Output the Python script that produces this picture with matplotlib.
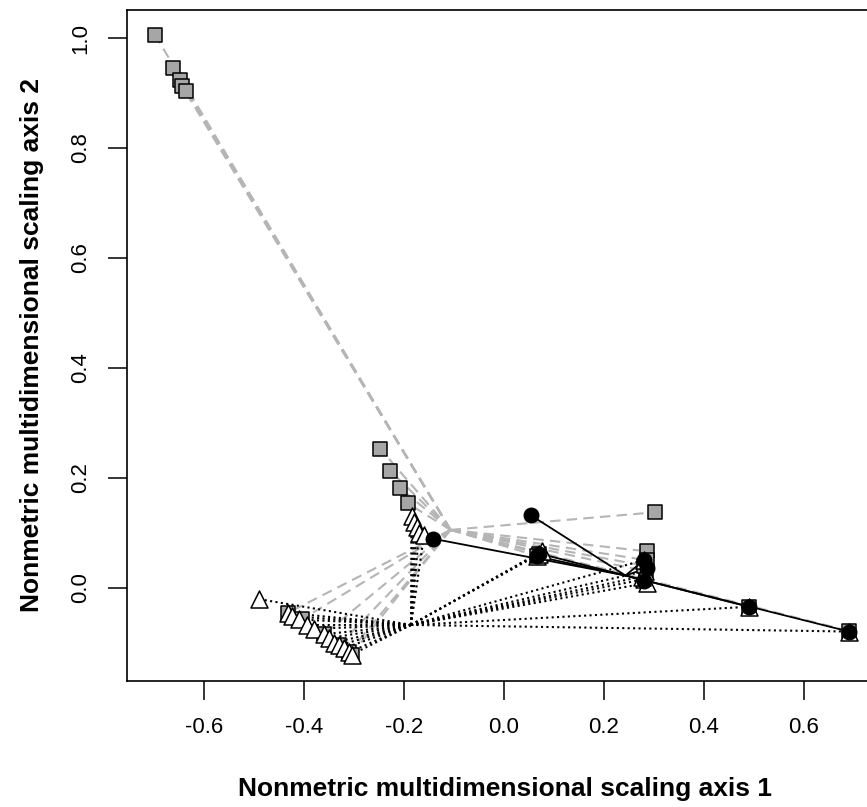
import numpy as np
import matplotlib
matplotlib.use('Agg')
from matplotlib import pyplot as plt

plt.rcParams['font.family'] = ['Liberation Sans', 'DejaVu Sans']

# Group 1: grey squares, grey dashed spider
sq_cent = (-0.107, 0.105)
sq_x = [-0.698, -0.662, -0.648, -0.644, -0.636, -0.248, -0.228, -0.208, -0.192,
        0.302, 0.286, 0.285, 0.283, 0.280, 0.690, 0.490, 0.070, 0.065,
        -0.432, -0.405, -0.360, -0.330, -0.310, -0.305]
sq_y = [1.006, 0.946, 0.924, 0.913, 0.904, 0.253, 0.213, 0.181, 0.153,
        0.137, 0.066, 0.050, 0.030, 0.040, -0.079, -0.035, 0.062, 0.058,
        -0.046, -0.058, -0.085, -0.105, -0.118, -0.122]

# Group 2: open triangles, black dotted spider
tr_cent = (-0.186, -0.068)
tr_x = [-0.490, -0.432, -0.425, -0.410, -0.395, -0.380, -0.360, -0.350, -0.340,
        -0.330, -0.320, -0.310, -0.305,
        -0.185, -0.180, -0.175, -0.170, -0.160,
        0.065, 0.070, 0.075, 0.280, 0.282, 0.280, 0.285, 0.276, 0.490, 0.690]
tr_y = [-0.021, -0.046, -0.052, -0.058, -0.068, -0.075, -0.085, -0.092, -0.100,
        -0.105, -0.110, -0.118, -0.122,
        0.130, 0.120, 0.110, 0.100, 0.095,
        0.058, 0.062, 0.066, 0.050, 0.030, 0.015, 0.008, 0.020, -0.035, -0.080]

# Group 3: black circles, solid spider
ci_cent = (0.243, 0.022)
ci_x = [0.053, -0.143, 0.070, 0.065, 0.280, 0.285, 0.280, 0.490, 0.690]
ci_y = [0.132, 0.089, 0.062, 0.057, 0.050, 0.035, 0.012, -0.035, -0.080]

xticks = [-0.6, -0.4, -0.2, 0.0, 0.2, 0.4, 0.6]
yticks = [0.0, 0.2, 0.4, 0.6, 0.8, 1.0]

W, H = 867, 807
fig = plt.figure(figsize=(W/100, H/100), dpi=100)
ax = fig.add_axes([127/W, (H-681)/H, 750/W, 671/H])
ax.set_xlim(-0.754, 0.746)
ax.set_ylim(-0.17, 1.051)

def spider(cent, xs, ys, **kw):
    for x, y in zip(xs, ys):
        ax.plot([cent[0], x], [cent[1], y], **kw)

spider(sq_cent, sq_x, sq_y, color='#b5b5b5', lw=1.5, ls=(0, (5, 3)), zorder=1)
spider(tr_cent, tr_x, tr_y, color='black', lw=1.5, ls=(0, (1, 1.6)), zorder=1)
spider(ci_cent, ci_x, ci_y, color='black', lw=1.3, ls='-', zorder=1)

ax.scatter(sq_x, sq_y, marker='s', s=90, facecolor='#a6a6a6', edgecolor='black',
           linewidths=1.1, zorder=3)
ax.scatter(tr_x, tr_y, marker='^', s=150, facecolor='white', edgecolor='black',
           linewidths=1.1, zorder=4)
ax.scatter(ci_x, ci_y, marker='o', s=110, facecolor='black', edgecolor='black',
           linewidths=1.0, zorder=5)

ax.set_xticks(xticks)
ax.set_xticklabels([f'{v:.1f}' for v in xticks])
ax.set_yticks(yticks)
ax.set_yticklabels([f'{v:.1f}' for v in yticks], rotation=90, va='center')
ax.tick_params(length=14, width=1.1, labelsize=16, pad=12)
for s in ax.spines.values():
    s.set_linewidth(1.2)

fig.text(505/W, 1 - 789/H, 'Nonmetric multidimensional scaling axis 1',
         ha='center', va='center', fontsize=19, fontweight='bold')
fig.text(32/W, 1 - 345/H, 'Nonmetric multidimensional scaling axis 2',
         ha='center', va='center', fontsize=19, fontweight='bold', rotation=90)

fig.savefig('out.png', dpi=100)
